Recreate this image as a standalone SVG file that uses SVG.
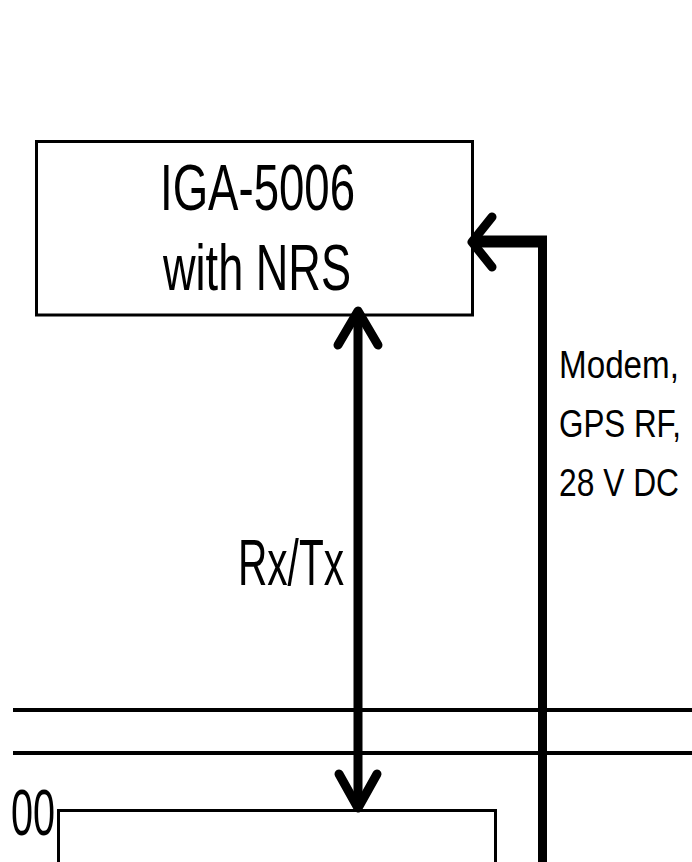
<svg xmlns="http://www.w3.org/2000/svg" width="692" height="862" viewBox="0 0 692 862">
<style>
.box{fill:#fff;stroke:#000;stroke-width:3}
.big{font-family:"Liberation Sans",Arial,sans-serif;font-size:64px;fill:#000}
.small{font-family:"Liberation Sans",Arial,sans-serif;font-size:39px;fill:#000}
.wire{fill:none;stroke:#000;stroke-width:9}
.head{fill:none;stroke:#000;stroke-width:9;stroke-linecap:round;stroke-linejoin:round}
.bus{fill:none;stroke:#000;stroke-width:4}
</style>
<rect width="692" height="862" fill="#fff"/>
<g id="bus">
<line class="bus" x1="13" y1="710" x2="692" y2="710"/>
<line class="bus" x1="13" y1="753" x2="692" y2="753"/>
</g>
<g id="iga5006">
<rect class="box" x="36.5" y="141.5" width="436" height="173.5"/>
<text class="big" x="160" y="210" textLength="195" lengthAdjust="spacingAndGlyphs">IGA-5006</text>
<text class="big" x="163" y="290" textLength="188" lengthAdjust="spacingAndGlyphs">with NRS</text>
</g>
<g id="lower-unit">
<text class="big" x="11" y="835" textLength="44" lengthAdjust="spacingAndGlyphs">00</text>
<path class="box" d="M58.5 870 V810.5 H495.5 V870"/>
</g>
<g id="connectors">
<line class="wire" x1="358" y1="314" x2="358" y2="806"/>
<polyline class="head" points="338,345 358,311 378,345"/>
<polyline class="head" points="339,774 358,808 377,774"/>
<line class="wire" x1="542.5" y1="236" x2="542.5" y2="862"/>
<line class="wire" style="stroke-width:12" x1="474" y1="241.5" x2="547" y2="241.5"/>
<polyline class="head" points="492,217 472,242 492,267"/>
</g>
<g id="labels">
<text class="big" x="238" y="585" textLength="106" lengthAdjust="spacingAndGlyphs">Rx/Tx</text>
<text class="small" x="559" y="378" textLength="120" lengthAdjust="spacingAndGlyphs">Modem,</text>
<text class="small" x="559" y="437" textLength="122" lengthAdjust="spacingAndGlyphs">GPS RF,</text>
<text class="small" x="559" y="496" textLength="120" lengthAdjust="spacingAndGlyphs">28 V DC</text>
</g>
</svg>
